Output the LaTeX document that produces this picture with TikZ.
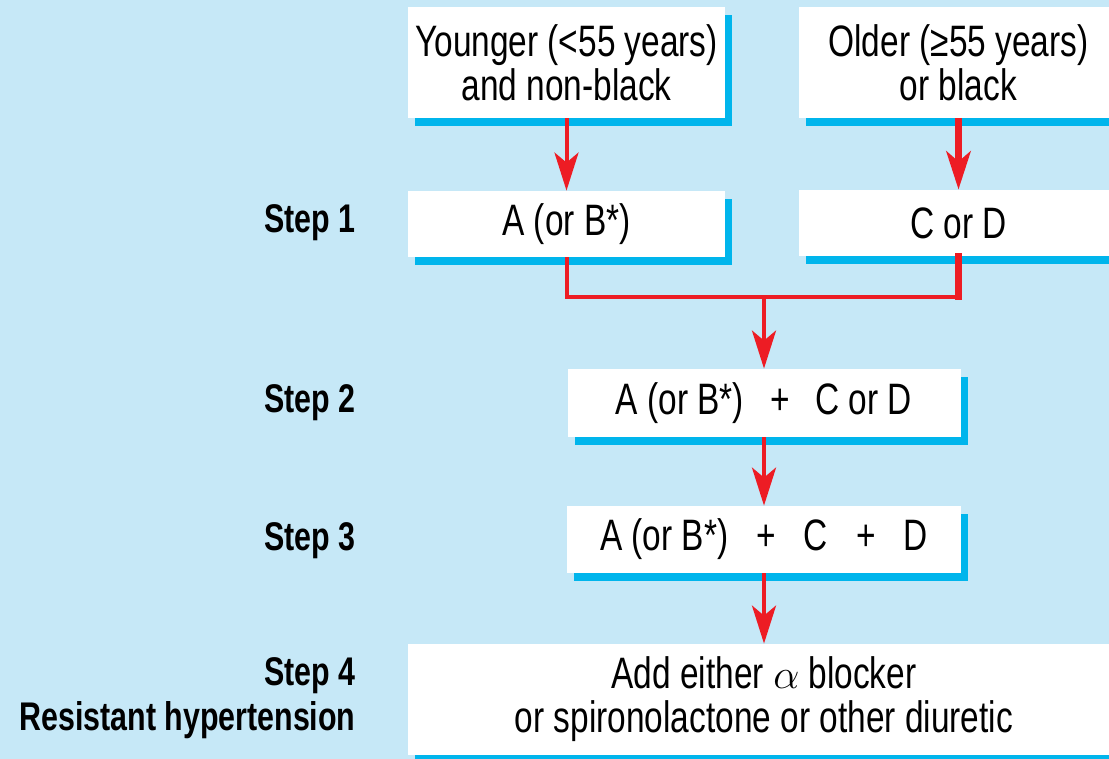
\documentclass[tikz,border=0pt]{standalone}
\usepackage{fontspec}
\setmainfont{Liberation Sans}[FakeStretch=0.76]
\usepackage{tikz}
\usetikzlibrary{calc,arrows.meta,shadows}
\definecolor{bgblue}{HTML}{C6E8F7}
\definecolor{shadowblue}{HTML}{00B5EC}
\definecolor{arrowred}{HTML}{ED1C24}
\tikzset{
   card/.style={fill=white, inner sep=0pt, align=center, font=\fontsize{22}{22}\selectfont,
                drop shadow={shadow xshift=3.5pt, shadow yshift=-4pt, fill=shadowblue, opacity=1}},
   steplabel/.style={anchor=base east, inner sep=0pt, font=\fontsize{20}{22}\selectfont\bfseries},
   link/.style={draw=arrowred, line width=2pt, -{Stealth[length=19pt,width=12pt,inset=5pt]}},
   thick link/.style={link, line width=3.5pt}
}

\begin{document}
\begin{tikzpicture}[x=0.5pt,y=-0.5pt]
\useasboundingbox (0,0) rectangle (1109,759);
\clip (0,0) rectangle (1109,759);
\fill[bgblue] (0,0) rectangle (1109,759);

% patient groups
\node[card, minimum width=158.5pt, minimum height=55.5pt] (young) at (566.5,62.5) {Younger (<55 years)\\and non-black};
\node[card, minimum width=160pt, minimum height=55.5pt] (old) at (958.5,62.5) {Older (≥55 years)\\or black};

% drugs
\node[card, minimum width=158.5pt, minimum height=33pt] (drugA) at (566.5,224) {A (or B*)};
\node[card, minimum width=160pt, minimum height=33pt] (drugC) at (958.5,223) {C or D};
\node[card, minimum width=196.5pt, minimum height=34pt] (combo2) at (764,403) {A (or B*)\hspace{13pt}+\hspace{13pt}C or D};
\node[card, minimum width=197pt, minimum height=33.5pt] (combo3) at (764,539.5) {A (or B*)\hspace{14pt}+\hspace{14pt}C\hspace{14pt}+\hspace{14pt}D};
\node[card, minimum width=356pt, minimum height=55.5pt] (addon) at (764,699.5) {Add either $\alpha$ blocker\\or spironolactone or other diuretic};

% step labels
\node[steplabel] (step1) at (356,233) {Step 1};
\node[steplabel] (step2) at (356,413) {Step 2};
\node[steplabel] (step3) at (356,550) {Step 3};
\node[steplabel] (step4) at (356,685) {Step 4};
\node[steplabel] (resist) at (356,730) {Resistant hypertension};

% arrows
\coordinate (merge) at (764,297);
\coordinate (cornerC) at (drugC.south |- merge);
\draw[link] (young) -- (drugA);
\draw[thick link] (old) -- (drugC);
\draw[link,-] (drugA) |- (cornerC);
\draw[thick link,-,line cap=rect] (drugC) -- (cornerC);
\draw[link] (merge) -- (combo2);
\draw[link] (combo2) -- (combo3);
\draw[link] (combo3) -- (addon);
\end{tikzpicture}
\end{document}
